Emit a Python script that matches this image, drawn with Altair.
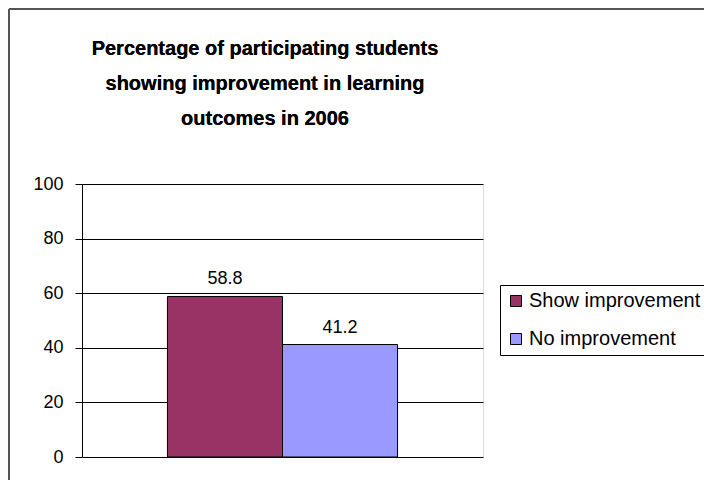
import altair as alt
import pandas as pd

series = ["Show improvement", "No improvement"]
values = [58.8, 41.2]
labels = ["58.8", "41.2"]
colors = ["#993366", "#9999FF"]
title_lines = ["Percentage of participating students",
               "showing improvement in learning",
               "outcomes in 2006"]
y_ticks = [0, 20, 40, 60, 80, 100]

df = pd.DataFrame({"series": series, "value": values, "label": labels})

FONT = "Liberation Sans"

x = alt.X("series:N", sort=series,
          scale=alt.Scale(paddingInner=0, paddingOuter=0.743),
          axis=None)
y = alt.Y("value:Q", scale=alt.Scale(domain=[0, 100], nice=False),
          axis=alt.Axis(values=y_ticks, title=None, grid=True,
                        gridColor="black", gridWidth=1, gridOpacity=1,
                        domainColor="black", domainWidth=1,
                        tickColor="black", tickSize=7, tickWidth=1,
                        labelPadding=12, labelFont=FONT, labelFontSize=18,
                        labelColor="black"))

bars = alt.Chart(df).mark_bar(stroke="black", strokeWidth=1).encode(
    x=x, y=y,
    color=alt.Color("series:N", sort=series,
                    scale=alt.Scale(domain=series, range=colors),
                    legend=alt.Legend(title=None, orient="none",
                                      legendX=418, legendY=101,
                                      padding=6, strokeColor="black",
                                      fillColor="white",
                                      symbolType="square", symbolSize=121,
                                      symbolStrokeColor="black",
                                      symbolStrokeWidth=1,
                                      symbolOpacity=1,
                                      labelFont=FONT, labelFontSize=20,
                                      labelColor="black", labelOffset=3,
                                      rowPadding=18, labelLimit=400)),
)

text = alt.Chart(df).mark_text(baseline="bottom", dy=-8, font=FONT,
                               fontSize=18, color="black").encode(
    x=x, y=alt.Y("value:Q"), text="label:N")

title = alt.Chart(df).mark_text(
    text=title_lines, font=FONT,
    fontSize=20, fontWeight="bold", color="black", align="center",
    baseline="alphabetic", lineHeight=35).encode(
    x=alt.value(183), y=alt.value(-129))

border_left = alt.Chart(df).mark_rule(color="#555555", strokeWidth=2).encode(
    x=alt.value(-73), y=alt.value(-175), y2=alt.value(300))
border_top = alt.Chart(df).mark_rule(color="#555555", strokeWidth=2).encode(
    x=alt.value(-73), x2=alt.value(640), y=alt.value(-175))

chart = alt.layer(bars, text, title, border_left, border_top).properties(
    width=401, height=273,
    padding={"left": 74, "top": 176, "right": 221, "bottom": 23},
    autosize=alt.AutoSizeParams(type="none"),
).configure_view(fill="#C0C0C0", stroke="#A0A0A0", strokeWidth=1
).configure(background="white")

chart.save("out.html", embed_options={"renderer": "svg", "actions": False})
